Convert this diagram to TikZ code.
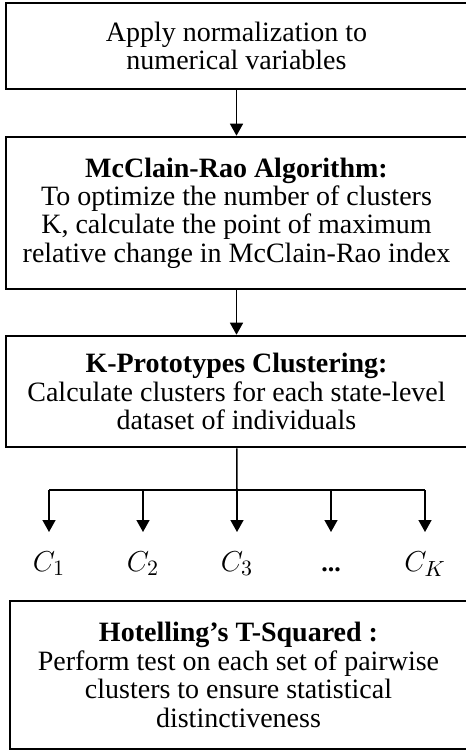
\documentclass[tikz,border=0pt]{standalone}
\usepackage{fontspec}
\setmainfont{Liberation Serif}
\usetikzlibrary{arrows.meta,positioning}

\begin{document}
\begin{tikzpicture}[x=0.5pt,y=-0.5pt]
    \tikzset{
        stage/.style = {draw, line width=1.3pt, align=center, inner sep=0pt,
            minimum width=230.5pt, font=\fontsize{14}{14.2}\selectfont},
        flow/.style = {line width=0.75pt, -{Triangle[width=6.5pt,length=6pt]}},
        branch/.style = {line width=0.75pt},
        clus/.style = {anchor=north, inner xsep=0pt, inner ysep=8.5pt,
            text height=11pt, text depth=2pt, font=\fontsize{15}{17}\selectfont}
    }
    \useasboundingbox (0,0) rectangle (465,753);

    % Steps
    \node[stage, minimum height=43pt] (norm) at (236.5,46)
        {Apply normalization to\\numerical variables};
    \node[stage, minimum height=76pt] (mcrao) at (236.5,213)
        {\textbf{McClain-Rao Algorithm:}\\To optimize the number of clusters\\K, calculate the point of maximum\\relative change in McClain-Rao index};
    \node[stage, minimum height=55.5pt] (kproto) at (236.5,391.5)
        {\textbf{K-Prototypes Clustering:}\\Calculate clusters for each state-level\\dataset of individuals};

    \draw[flow] (norm) -- (mcrao);
    \draw[flow] (mcrao) -- (kproto);

    % Clusters
    \coordinate (split) at (237,490);
    \foreach \x/\n in {49/1,143/2,237/3,331/4,425/5}
        \coordinate (b\n) at (\x,490);
    \node[clus] (c1) at (49,532) {$C_1$};
    \node[clus] (c2) at (143,532) {$C_2$};
    \node[clus] (c3) at (237,532) {$C_3$};
    \node[clus] (c4) at (331,532) {\fontsize{13}{15}\selectfont\textbf{...}};
    \node[clus] (c5) at (425,532) {$C_K$};

    \draw[branch] (kproto) -- (split);
    \draw[branch] (b1) -- (b5);
    \foreach \n in {1,...,5}
        \draw[flow] (b\n) -- (c\n);

    % Test
    \node[stage, minimum width=228.5pt, minimum height=74pt] (hotel) at (238.5,675)
        {\textbf{Hotelling’s T-Squared :}\\Perform test on each set of pairwise\\clusters to ensure statistical\\distinctiveness};
\end{tikzpicture}
\end{document}
